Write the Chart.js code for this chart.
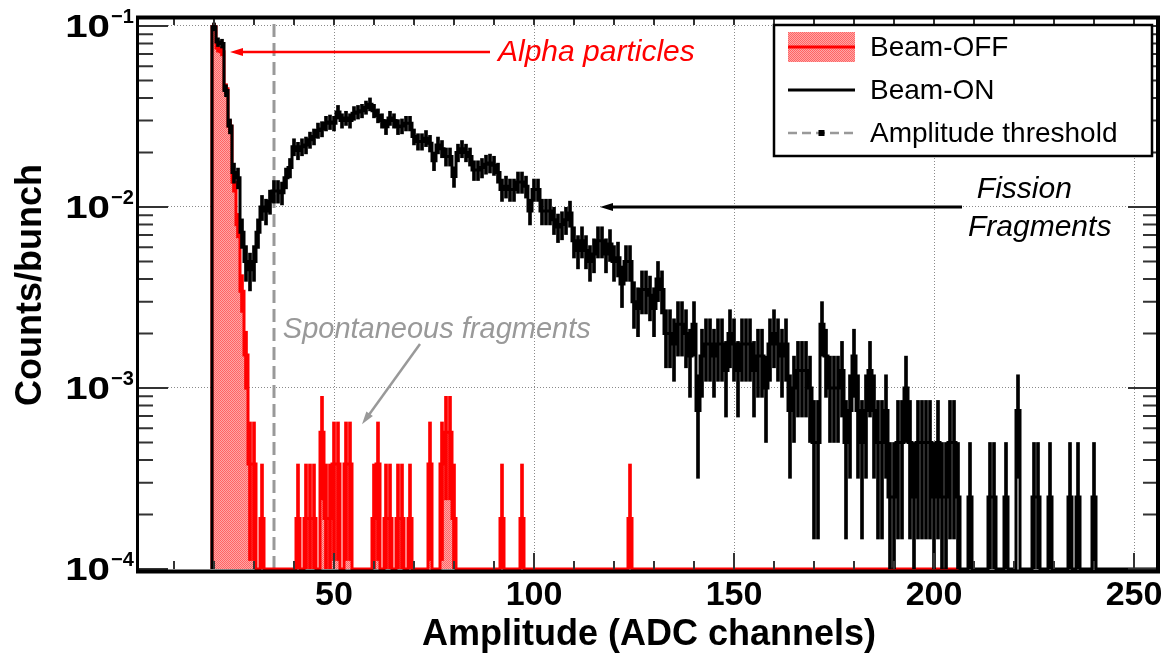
<!DOCTYPE html>
<html lang="en">
<head>
<meta charset="UTF-8">
<title>Amplitude spectrum</title>
<script src="https://cdn.jsdelivr.net/npm/chart.js@4.4.1/dist/chart.umd.min.js"></script>
<style>
  body { margin: 0; background: #fff; }
  canvas { display: block; }
</style>
</head>
<body>
<canvas id="amplitude" width="1167" height="655"></canvas>
<script>
// first ADC channel of both histograms (bins are 1 channel wide)
const firstChannel = 20;

// Beam-ON raw counts, channels 20 ... 255
const beamOnCounts = [
  396, 326, 320, 176, 112, 62, 58, 29, 20, 18,
  20, 29, 40, 38, 43, 49, 49, 48, 58, 66,
  86, 82, 86, 88, 94, 98, 106, 108, 116, 118,
  116, 134, 120, 124, 120, 132, 134, 136, 142, 148,
  136, 128, 120, 111, 124, 120, 111, 112, 116, 116,
  98, 92, 92, 96, 90, 72, 88, 84, 76, 76,
  59, 80, 84, 80, 76, 64, 64, 66, 69, 70,
  68, 62, 50, 52, 50, 50, 55, 55, 52, 38,
  50, 50, 38, 38, 38, 34, 31, 32, 34, 37,
  26, 23, 26, 23, 20, 22, 26, 26, 22, 25,
  20, 21, 15, 20, 20, 12, 11, 14, 14, 13,
  11, 16, 14, 8, 8, 7, 9, 9, 8, 6,
  9, 3, 6, 7, 7, 6, 7, 7, 5, 8,
  7, 5, 7, 7, 7, 5, 6, 6, 4, 7,
  8, 7, 6, 7, 3, 4, 5, 5, 5, 4,
  2, 2, 9, 6, 4, 4, 4, 5, 2, 3,
  6, 3, 2, 3, 5, 3, 2, 2, 3, 1,
  1, 2, 2, 4, 2, 1, 2, 2, 2, 2,
  1, 2, 1, 1, 2, 2, 1, 0, 0, 1,
  0, 0, 0, 0, 1, 1, 0, 0, 1, 0,
  0, 3, 0, 0, 0, 1, 1, 0, 0, 1,
  0, 0, 0, 0, 1, 0, 1, 0, 0, 0,
  1, 0, 0, 0, 0, 0, 0, 0, 0, 0,
  0, 0, 0, 0, 0, 0
];

// Beam-OFF raw counts, channels 20 ... 206
const beamOffCounts = [
  521, 397, 379, 237, 147, 72, 42, 18, 8, 2,
  2, 0, 1, 0, 0, 0, 0, 0, 0, 0,
  0, 1, 0, 1, 1, 1, 0, 3, 1, 1,
  2, 2, 0, 2, 2, 0, 0, 0, 0, 0,
  1, 2, 0, 1, 1, 0, 1, 1, 0, 1,
  0, 0, 0, 0, 2, 0, 0, 2, 3, 3,
  1, 0, 0, 0, 0, 0, 0, 0, 0, 0,
  0, 0, 1, 0, 0, 0, 0, 1, 0, 0,
  0, 0, 0, 0, 0, 0, 0, 0, 0, 0,
  0, 0, 0, 0, 0, 0, 0, 0, 0, 0,
  0, 0, 0, 0, 1, 0, 0, 0, 0, 0,
  0, 0, 0, 0, 0, 0, 0, 0, 0, 0,
  0, 0, 0, 0, 0, 0, 0, 0, 0, 0,
  0, 0, 0, 0, 0, 0, 0, 0, 0, 0,
  0, 0, 0, 0, 0, 0, 0, 0, 0, 0,
  0, 0, 0, 0, 0, 0, 0, 0, 0, 0,
  0, 0, 0, 0, 0, 0, 0, 0, 0, 0,
  0, 0, 0, 0, 0, 0, 0, 0, 0, 0,
  0, 0, 0, 0, 0, 0, 0
];

// number of bunches each run was normalised to
const beamOnBunches = 4000;
const beamOffBunches = 5260;

const thresholdChannel = 35;

const xLimits = [1, 256];
const yLimits = [1e-4, 0.1121];
const xLabelTicks = [50, 100, 150, 200, 250];
const xMinorStep = 10;
const yDecades = [-4, -3, -2, -1];

const seriesNames = ['Beam-OFF', 'Beam-ON', 'Amplitude threshold'];
const axisTitles = ['Amplitude (ADC channels)', 'Counts/bunch'];

// text notes and arrows, anchored in data units
const notes = [
  {text: 'Alpha particles', x: 91, y: 0.0712, color: '#ff0000'},
  {text: 'Fission', x: 210.7, y: 0.0124, color: '#000000'},
  {text: 'Fragments', x: 208.5, y: 0.00766, color: '#000000'},
  {text: 'Spontaneous fragments', x: 37.2, y: 0.00209, color: '#999999'}
];
const arrows = [
  {from: [89, 0.0718], to: [24, 0.0718], color: '#ff0000', width: 2.5},
  {from: [207, 0.01], to: [116.5, 0.01], color: '#000000', width: 3},
  {from: [71.5, 0.00175], to: [57, 0.00063], color: '#999999', width: 2.5}
];

const FONT = '"Liberation Sans", Arial, Helvetica, sans-serif';

function histPoints(counts, bunches) {
  // stepped line: each point opens a bin at its left edge
  const pts = [{x: firstChannel - 0.5, y: yLimits[0]}];
  counts.forEach((n, i) => {
    pts.push({x: firstChannel + i - 0.5, y: Math.max(n / bunches, yLimits[0])});
  });
  const last = counts[counts.length - 1];
  pts.push({x: firstChannel + counts.length - 0.5, y: Math.max(last / bunches, yLimits[0])});
  return pts;
}

function errorBars(counts, bunches) {
  const out = [];
  counts.forEach((n, i) => {
    if (n <= 0) return;
    const e = Math.sqrt(n);
    out.push({x: firstChannel + i, y: [Math.max((n - e) / bunches, yLimits[0]), (n + e) / bunches]});
  });
  return out;
}

function checkerFill() {
  const tile = document.createElement('canvas');
  tile.width = 2; tile.height = 2;
  const t = tile.getContext('2d');
  t.fillStyle = '#ffa6a6'; t.fillRect(0, 0, 2, 2);
  t.fillStyle = '#ff6464'; t.fillRect(0, 0, 1, 1); t.fillRect(1, 1, 1, 1);
  return t.createPattern(tile, 'repeat');
}

function yTickValues() {
  const vals = [];
  yDecades.forEach(e => {
    for (let s = 1; s <= 9; s++) {
      const v = s * Math.pow(10, e);
      if (v <= yLimits[1] * 1.0001) vals.push(v);
    }
  });
  return vals;
}

function xTickValues() {
  const vals = [];
  for (let v = xMinorStep; v <= xLimits[1]; v += xMinorStep) vals.push(v);
  return vals;
}

function isDecade(v) {
  const l = Math.log10(v);
  return Math.abs(l - Math.round(l)) < 1e-6;
}

function drawArrow(ctx, x0, y0, x1, y1, color, width) {
  const a = Math.atan2(y1 - y0, x1 - x0);
  const head = 13, half = 4;
  const bx = x1 - head * Math.cos(a), by = y1 - head * Math.sin(a);
  ctx.strokeStyle = color; ctx.fillStyle = color; ctx.lineWidth = width;
  ctx.setLineDash([]);
  ctx.beginPath(); ctx.moveTo(x0, y0); ctx.lineTo(bx + 2 * Math.cos(a), by + 2 * Math.sin(a)); ctx.stroke();
  ctx.beginPath();
  ctx.moveTo(x1, y1);
  ctx.lineTo(bx + half * Math.sin(a), by - half * Math.cos(a));
  ctx.lineTo(bx - half * Math.sin(a), by + half * Math.cos(a));
  ctx.closePath(); ctx.fill();
}

const rootStyle = {
  id: 'rootStyle',
  afterDraw(chart) {
    const {ctx, chartArea: a, scales: {x, y}} = chart;
    const ds = chart.data.datasets;
    ctx.save();

    // arrows + notes
    arrows.forEach(ar => {
      drawArrow(ctx, x.getPixelForValue(ar.from[0]), y.getPixelForValue(ar.from[1]),
        x.getPixelForValue(ar.to[0]), y.getPixelForValue(ar.to[1]), ar.color, ar.width);
    });
    ctx.font = 'italic 30px ' + FONT;
    ctx.textAlign = 'left'; ctx.textBaseline = 'middle';
    notes.forEach(n => {
      ctx.font = (n.text.length > 16 ? 'italic 29px ' : 'italic 30px ') + FONT;
      ctx.fillStyle = n.color;
      ctx.fillText(n.text, x.getPixelForValue(n.x), y.getPixelForValue(n.y));
    });

    // tick marks, pointing inwards on all four sides
    ctx.strokeStyle = '#333'; ctx.lineWidth = 2; ctx.setLineDash([]);
    ctx.beginPath();
    xTickValues().forEach(v => {
      const px = x.getPixelForValue(v);
      const len = xLabelTicks.includes(v) ? 16 : 8;
      ctx.moveTo(px, a.bottom); ctx.lineTo(px, a.bottom - len);
      ctx.moveTo(px, a.top); ctx.lineTo(px, a.top + 8);
    });
    yTickValues().forEach(v => {
      const py = y.getPixelForValue(v);
      const len = isDecade(v) ? 30 : 15;
      ctx.moveTo(a.left, py); ctx.lineTo(a.left + len, py);
      ctx.moveTo(a.right, py); ctx.lineTo(a.right - len, py);
    });
    ctx.stroke();

    // frame
    ctx.strokeStyle = '#000';
    ctx.lineWidth = 3;
    ctx.beginPath(); ctx.moveTo(a.left - 0.5, a.top); ctx.lineTo(a.left - 0.5, a.bottom + 3.5); ctx.stroke();
    ctx.lineWidth = 4;
    ctx.beginPath();
    ctx.moveTo(a.left - 2, a.bottom + 2.5); ctx.lineTo(a.right + 2, a.bottom + 2.5);
    ctx.moveTo(a.right, a.bottom + 2.5); ctx.lineTo(a.right, a.top + 0.5);
    ctx.moveTo(a.right + 2, a.top + 0.5); ctx.lineTo(a.left - 2, a.top + 0.5);
    ctx.stroke();

    // x tick labels + title
    ctx.fillStyle = '#000';
    ctx.font = 'bold 34px ' + FONT;
    ctx.textAlign = 'center'; ctx.textBaseline = 'alphabetic';
    xLabelTicks.forEach(v => ctx.fillText(String(v), x.getPixelForValue(v), a.bottom + 36));
    ctx.font = 'bold 36px ' + FONT;
    ctx.fillText(axisTitles[0], (a.left + a.right) / 2 + 1, a.bottom + 76);

    // y tick labels 10^n
    yDecades.forEach(e => {
      const py = y.getPixelForValue(Math.pow(10, e));
      ctx.save();
      ctx.translate(a.left - 28, py + 11);
      ctx.scale(1.3, 1);
      ctx.font = 'bold 31px ' + FONT;
      ctx.textAlign = 'right';
      ctx.fillText('10', 0, 0);
      ctx.restore();
      ctx.font = 'bold 20px ' + FONT;
      ctx.textAlign = 'left';
      ctx.fillText('\u2212' + Math.abs(e), a.left - 27, py - 3);
    });

    // y title
    ctx.save();
    ctx.translate(41, a.top + 268);
    ctx.rotate(-Math.PI / 2);
    ctx.font = 'bold 36px ' + FONT;
    ctx.textAlign = 'center';
    ctx.fillText(axisTitles[1], 0, 0);
    ctx.restore();

    // legend box
    const lx = a.right - 384, ly = a.top + 8, lw = 378, lh = 131;
    ctx.fillStyle = '#fff';
    ctx.fillRect(lx, ly, lw, lh);
    ctx.strokeStyle = '#000'; ctx.lineWidth = 2.5;
    ctx.strokeRect(lx, ly, lw, lh);
    const sx0 = lx + 14, sx1 = lx + 81;
    const rows = [ly + 22, ly + 65, ly + 108];
    // Beam-OFF symbol
    ctx.fillStyle = ds[0].backgroundColor;
    ctx.fillRect(sx0, rows[0] - 15, sx1 - sx0, 30);
    ctx.strokeStyle = ds[0].borderColor; ctx.lineWidth = 3;
    ctx.beginPath(); ctx.moveTo(sx0, rows[0]); ctx.lineTo(sx1, rows[0]); ctx.stroke();
    // Beam-ON symbol
    ctx.strokeStyle = ds[2].borderColor;
    ctx.beginPath(); ctx.moveTo(sx0, rows[1]); ctx.lineTo(sx1, rows[1]); ctx.stroke();
    // threshold symbol
    ctx.strokeStyle = ds[4].borderColor; ctx.lineWidth = 2.5;
    ctx.setLineDash([9, 5]);
    ctx.beginPath(); ctx.moveTo(sx0, rows[2]); ctx.lineTo(sx1, rows[2]); ctx.stroke();
    ctx.setLineDash([]);
    ctx.fillStyle = '#000';
    ctx.fillRect((sx0 + sx1) / 2 - 3, rows[2] - 3, 6, 6);
    ctx.font = '28px ' + FONT;
    ctx.textAlign = 'left'; ctx.textBaseline = 'middle';
    [ds[0].label, ds[2].label, ds[4].label].forEach((t, i) => ctx.fillText(t, lx + 96, rows[i] + 1));

    ctx.restore();
  }
};

document.addEventListener('DOMContentLoaded', () => {
  const gridDots = '#8a8a8a';
  const ctx = document.getElementById('amplitude').getContext('2d');

  new Chart(ctx, {
    type: 'line',
    data: {
      datasets: [
        {
          label: seriesNames[0],
          data: histPoints(beamOffCounts, beamOffBunches),
          stepped: true,
          borderColor: '#ff0000',
          backgroundColor: checkerFill(),
          borderWidth: 3,
          fill: 'start',
          pointRadius: 0,
          clip: {left: 0, top: 0, right: 0, bottom: 3},
          order: 4
        },
        {
          type: 'bar',
          label: '',
          data: errorBars(beamOffCounts, beamOffBunches),
          backgroundColor: '#ff0000',
          barThickness: 3,
          grouped: false,
          order: 3
        },
        {
          label: seriesNames[1],
          data: histPoints(beamOnCounts, beamOnBunches),
          stepped: true,
          borderColor: '#000000',
          borderWidth: 3,
          fill: false,
          pointRadius: 0,
          clip: {left: 0, top: 0, right: 0, bottom: 3},
          order: 1
        },
        {
          type: 'bar',
          label: '',
          data: errorBars(beamOnCounts, beamOnBunches),
          backgroundColor: '#000000',
          barThickness: 3,
          grouped: false,
          order: 0
        },
        {
          label: seriesNames[2],
          data: [{x: thresholdChannel, y: yLimits[0]}, {x: thresholdChannel, y: yLimits[1]}],
          borderColor: '#999999',
          borderWidth: 3,
          borderDash: [13, 6],
          pointRadius: 0,
          fill: false,
          order: 5
        }
      ]
    },
    options: {
      responsive: false,
      animation: false,
      events: [],
      layout: { padding: { top: 17, right: 9, left: 0, bottom: 0 } },
      plugins: {
        legend: { display: false },
        tooltip: { enabled: false }
      },
      scales: {
        x: {
          type: 'linear',
          min: xLimits[0],
          max: xLimits[1],
          offset: false,
          afterBuildTicks: scale => { scale.ticks = xTickValues().map(v => ({value: v})); },
          afterFit: scale => { scale.height = 86; },
          ticks: { display: false },
          border: { display: false, dash: [1, 2] },
          grid: {
            drawTicks: false,
            offset: false,
            lineWidth: 1,
            color: c => (c.tick && xLabelTicks.includes(c.tick.value)) ? gridDots : 'rgba(0,0,0,0)'
          }
        },
        y: {
          type: 'logarithmic',
          min: yLimits[0],
          max: yLimits[1],
          afterBuildTicks: scale => { scale.ticks = yTickValues().map(v => ({value: v})); },
          afterFit: scale => { scale.width = 138; },
          ticks: { display: false },
          border: { display: false, dash: [1, 2] },
          grid: {
            drawTicks: false,
            lineWidth: 1,
            color: c => (c.tick && isDecade(c.tick.value) && c.tick.value > yLimits[0] * 1.01) ? gridDots : 'rgba(0,0,0,0)'
          }
        }
      }
    },
    plugins: [rootStyle]
  });
});
</script>
</body>
</html>
